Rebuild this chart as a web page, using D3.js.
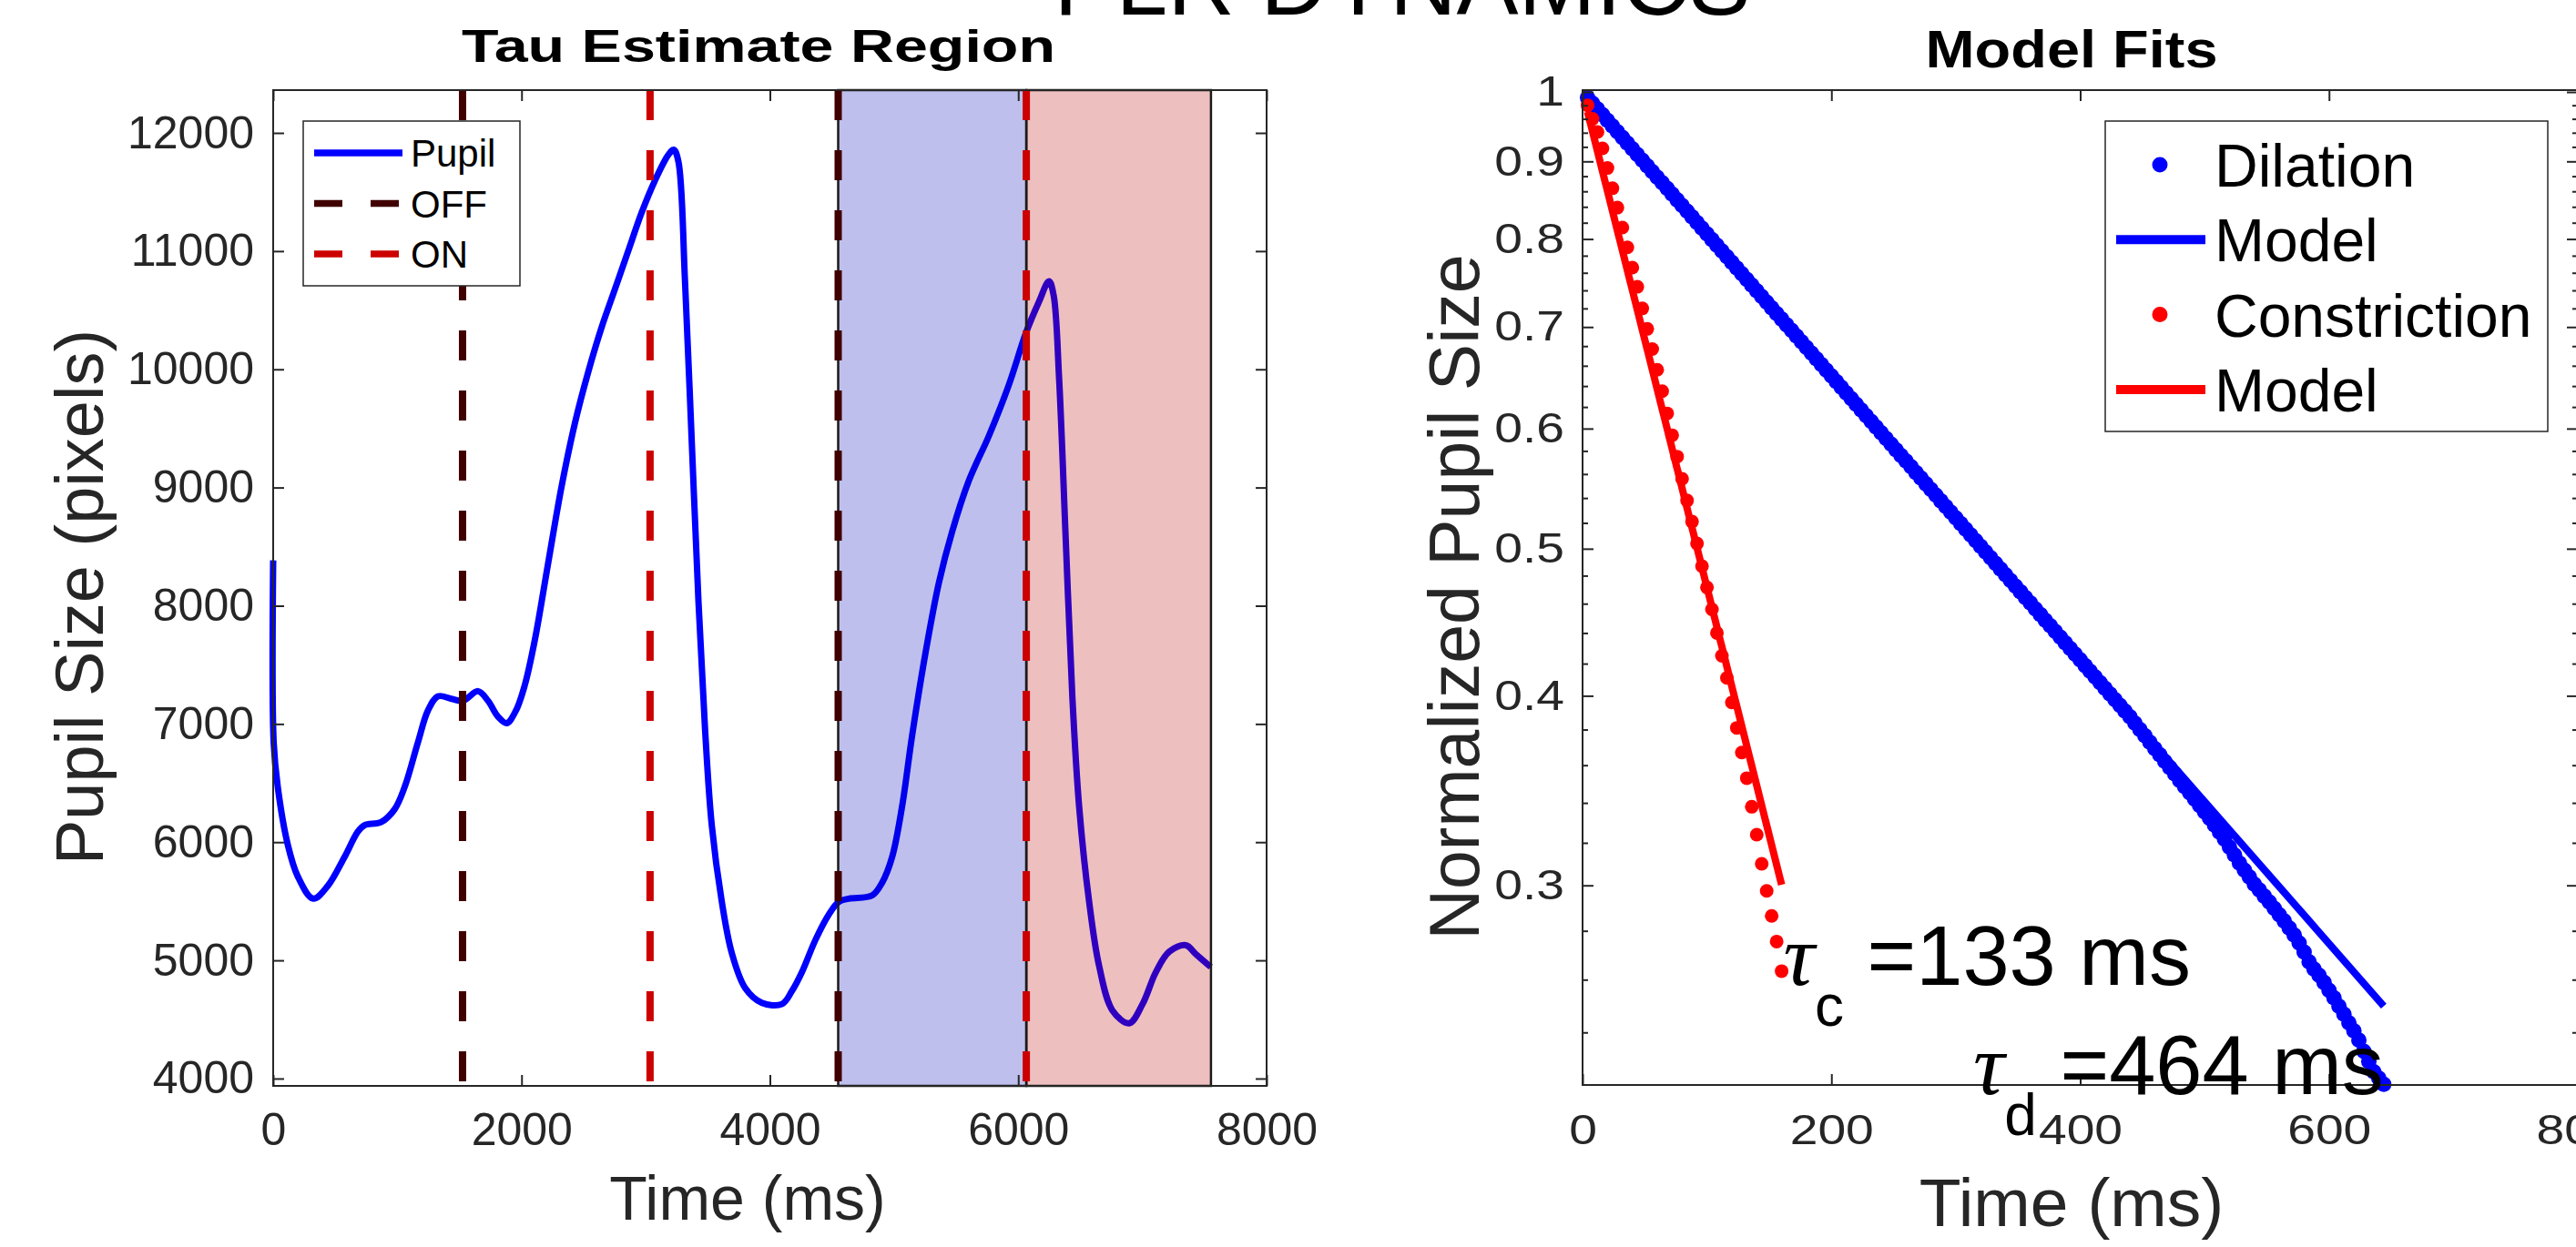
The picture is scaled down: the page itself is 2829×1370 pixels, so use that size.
<!DOCTYPE html>
<html><head><meta charset="utf-8">
<script src="https://cdn.jsdelivr.net/npm/d3@7"></script>
<style>html,body{margin:0;padding:0;background:#fff;overflow:hidden}svg{display:block}</style>
</head><body>
<svg id="chart" width="2829" height="1370"></svg>
<script>
// ---------------- DATA ----------------
const mainTitle = "PLR DYNAMICS";
const leftTitle = "Tau Estimate Region";
const rightTitle = "Model Fits";

// Left panel: pupil trace
const pupilTime = [0,4,37,117,198,322,440,574,682,736,870,978,1059,1166,1247,1327,1435,1527,1650,1730,1811,1881,1956,2027,2107,2214,2322,2430,2537,2645,2753,2860,2968,3075,3182,3226,3263,3317,3371,3425,3478,3532,3613,3693,3801,3935,4097,4177,4258,4366,4474,4554,4635,4823,4903,4984,5065,5145,5253,5361,5468,5603,5764,5925,6060,6167,6248,6285,6329,6382,6436,6490,6571,6651,6759,6893,7001,7108,7216,7350,7431,7550];
const pupilSize = [8384,6845,6467,5981,5710,5522,5630,5873,6089,6143,6170,6278,6467,6845,7115,7234,7213,7196,7277,7196,7061,7007,7115,7331,7709,8357,9006,9545,9977,10355,10680,11004,11328,11598,11814,11858,11760,10733,9384,8033,6953,6143,5495,5063,4766,4641,4630,4739,4900,5171,5387,5495,5522,5549,5656,5873,6305,6899,7601,8195,8628,9060,9438,9870,10302,10572,10745,10626,9923,8573,7223,6305,5495,4954,4576,4468,4630,4900,5074,5128,5052,4944];
const offTimes = [1525, 4550];
const onTimes = [3035, 6065];
const dilationRegion = [4550, 6065];
const constrictionRegion = [6065, 7552];
const leftXTicks = [0,2000,4000,6000,8000];
const leftYTicks = [4000,5000,6000,7000,8000,9000,10000,11000,12000];
const leftLegend = ["Pupil","OFF","ON"];

// Right panel: normalized fits
const dilTime = [4,8,12,16,20,24,28,32,36,40,44,48,52,56,60,64,68,72,76,80,84,88,92,96,100,104,108,112,116,120,124,128,132,136,140,144,148,152,156,160,164,168,172,176,180,184,188,192,196,200,204,208,212,216,220,224,228,232,236,240,244,248,252,256,260,264,268,272,276,280,284,288,292,296,300,304,308,312,316,320,324,328,332,336,340,344,348,352,356,360,364,368,372,376,380,384,388,392,396,400,404,408,412,416,420,424,428,432,436,440,444,448,452,456,460,464,468,472,476,480,484,488,492,496,500,504,508,512,516,520,524,528,532,536,540,544,548,552,556,560,564,568,572,576,580,584,588,592,596,600,604,608,612,616,620,624,628,632,636,640,644];
const dilValue = [0.9914,0.9829,0.9745,0.9661,0.9578,0.9496,0.9414,0.9334,0.9253,0.9174,
0.9095,0.9017,0.8940,0.8863,0.8787,0.8712,0.8637,0.8563,0.8489,0.8417,
0.8344,0.8273,0.8202,0.8131,0.8061,0.7992,0.7924,0.7856,0.7788,0.7721,
0.7655,0.7590,0.7524,0.7460,0.7396,0.7332,0.7269,0.7207,0.7145,0.7084,
0.7023,0.6963,0.6903,0.6844,0.6785,0.6727,0.6669,0.6612,0.6555,0.6499,
0.6443,0.6388,0.6333,0.6279,0.6225,0.6171,0.6118,0.6066,0.6014,0.5962,
0.5911,0.5860,0.5810,0.5760,0.5711,0.5662,0.5613,0.5565,0.5517,0.5470,
0.5423,0.5376,0.5330,0.5284,0.5239,0.5194,0.5149,0.5105,0.5061,0.5018,
0.4975,0.4932,0.4890,0.4848,0.4806,0.4765,0.4724,0.4684,0.4643,0.4604,
0.4564,0.4525,0.4486,0.4448,0.4410,0.4372,0.4334,0.4297,0.4260,0.4224,
0.4187,0.4151,0.4116,0.4080,0.4045,0.4011,0.3976,0.3942,0.3908,0.3875,
0.3837,0.3800,0.3765,0.3728,0.3692,0.3657,0.3621,0.3587,0.3553,0.3518,
0.3485,0.3452,0.3419,0.3386,0.3354,0.3321,0.3287,0.3252,0.3218,0.3179,
0.3142,0.3103,0.3070,0.3038,0.3005,0.2979,0.2951,0.2925,0.2897,0.2869,
0.2842,0.2812,0.2782,0.2749,0.2711,0.2671,0.2642,0.2617,0.2589,0.2558,
0.2529,0.2497,0.2467,0.2435,0.2406,0.2372,0.2332,0.2296,0.2261,0.2239,0.2218];
const conTime = [4,8,12,16,20,24,28,32,36,40,44,48,52,56,60,64,68,72,76,80,84,88,92,96,100,104,108,112,116,120,124,128,132,136,140,144,148,152,156,160];
const conValue = [0.980,0.960,0.941,0.918,0.891,0.864,0.839,0.814,0.790,0.766,
0.744,0.720,0.698,0.677,0.656,0.635,0.614,0.594,0.575,0.556,
0.538,0.521,0.504,0.487,0.4715,0.456,0.440,0.425,0.411,0.396,
0.381,0.367,0.353,0.338,0.324,0.310,0.2975,0.2864,0.2755,0.2634];
const dilModelTime = [4, 644];
const dilModelValue = [0.9914, 0.2498];
const conModelTime = [4, 160];
const conModelValue = [0.9704, 0.3003];
const rightXTicks = [0,200,400,600,800];
const rightYTicks = [0.3,0.4,0.5,0.6,0.7,0.8,0.9,1];
const rightYMinor = [0.24,0.26,0.28,0.32,0.34,0.36,0.38,0.42,0.44,0.46,0.48,0.52,0.54,0.56,0.58,0.62,0.64,0.66,0.68,0.72,0.74,0.76,0.78,0.82,0.84,0.86,0.88,0.92,0.94,0.96,0.98];
const rightLegend = ["Dilation","Model","Constriction","Model"];
const tauC = 133, tauD = 464;

// ---------------- DRAW ----------------
const svg = d3.select('#chart');
const FONT = "'Liberation Sans', Arial, Helvetica, sans-serif";
const AX = '#262626';

function styleAxis(g, fs) {
  g.select('.domain').remove();
  g.selectAll('.tick line').attr('stroke', AX).attr('stroke-width', 2);
  g.selectAll('.tick text').attr('fill', AX).attr('font-family', FONT).attr('font-size', fs);
  return g;
}

// ===== LEFT PANEL =====
const L = {left:300, right:1391, top:99, bottom:1193};
const xL = d3.scaleLinear().domain([0,8000]).range([L.left, L.right]);
const yL = d3.scaleLinear().domain([3938,12362]).range([L.bottom, L.top]);
const gL = svg.append('g');

gL.append('path')
  .datum(pupilTime.map((t,i)=>[t,pupilSize[i]]))
  .attr('d', d3.line().x(d=>xL(d[0])).y(d=>yL(d[1])).curve(d3.curveCatmullRom.alpha(0.5)))
  .attr('fill','none').attr('stroke','#0000ff').attr('stroke-width',7)
  .attr('stroke-linejoin','round').attr('stroke-linecap','butt');

const regions = [
  {r: dilationRegion, fill: '#0000b8'},
  {r: constrictionRegion, fill: '#bc0000'}
];
gL.selectAll('rect.region').data(regions).join('rect').attr('class','region')
  .attr('x', d=>xL(d.r[0])).attr('y', L.top)
  .attr('width', d=>xL(d.r[1])-xL(d.r[0])).attr('height', L.bottom-L.top)
  .attr('fill', d=>d.fill).attr('fill-opacity', 0.25)
  .attr('stroke', '#1a1a1a').attr('stroke-width', 2.5);

gL.selectAll('line.off').data(offTimes).join('line').attr('class','off')
  .attr('x1', d=>xL(d)).attr('x2', d=>xL(d)).attr('y1', L.top).attr('y2', L.bottom)
  .attr('stroke','#400000').attr('stroke-width',8).attr('stroke-dasharray','33,33');
gL.selectAll('line.on').data(onTimes).join('line').attr('class','on')
  .attr('x1', d=>xL(d)).attr('x2', d=>xL(d)).attr('y1', L.top).attr('y2', L.bottom)
  .attr('stroke','#cc0000').attr('stroke-width',8).attr('stroke-dasharray','33,33');

styleAxis(gL.append('g').attr('transform',`translate(${L.left},0)`)
  .call(d3.axisLeft(yL).tickValues(leftYTicks).tickSize(-12).tickPadding(21).tickFormat(d3.format('d'))), 50);
styleAxis(gL.append('g').attr('transform',`translate(${L.right},0)`)
  .call(d3.axisRight(yL).tickValues(leftYTicks).tickSize(-12).tickFormat('')), 50);
styleAxis(gL.append('g').attr('transform',`translate(0,${L.bottom})`)
  .call(d3.axisBottom(xL).tickValues(leftXTicks).tickSize(-12).tickPadding(29).tickFormat(d3.format('d'))), 50);
styleAxis(gL.append('g').attr('transform',`translate(0,${L.top})`)
  .call(d3.axisTop(xL).tickValues(leftXTicks).tickSize(-12).tickFormat('')), 50);
gL.append('rect').attr('x',L.left).attr('y',L.top).attr('width',L.right-L.left).attr('height',L.bottom-L.top)
  .attr('fill','none').attr('stroke',AX).attr('stroke-width',2);

const lg = gL.append('g');
lg.append('rect').attr('x',333).attr('y',133).attr('width',238).attr('height',181)
  .attr('fill','#fff').attr('stroke',AX).attr('stroke-width',1.5);
const legStyles = [
  {stroke:'#0000ff', dash:null},
  {stroke:'#400000', dash:'31,31'},
  {stroke:'#cc0000', dash:'31,31'}
];
leftLegend.forEach((name,i)=>{
  const cy = 168 + i*55.5;
  lg.append('line').attr('x1',345).attr('x2',442).attr('y1',cy).attr('y2',cy)
    .attr('stroke',legStyles[i].stroke).attr('stroke-width',7.5)
    .attr('stroke-dasharray',legStyles[i].dash);
  lg.append('text').attr('x',451).attr('y',cy+15).text(name)
    .attr('font-family',FONT).attr('font-size',42).attr('fill','#000');
});

svg.append('text').attr('transform','translate(113,656) rotate(-90)').attr('text-anchor','middle')
  .attr('font-family',FONT).attr('font-size',74).attr('fill',AX).text('Pupil Size (pixels)');
svg.append('text').attr('x',821).attr('y',1340).attr('text-anchor','middle')
  .attr('font-family',FONT).attr('font-size',68).attr('fill',AX).text('Time (ms)');
svg.append('text').attr('x',833).attr('y',68).attr('text-anchor','middle')
  .attr('font-family',FONT).attr('font-weight','bold').attr('font-size',50).attr('fill','#000')
  .attr('textLength',652).attr('lengthAdjust','spacingAndGlyphs').text(leftTitle);

// ===== RIGHT PANEL =====
const R = {left:1738, right:2831, top:99, bottom:1192};
const xR = d3.scaleLinear().domain([0,800]).range([R.left, R.right]);
const yR = d3.scaleLog().domain([0.2216,1.0028]).range([R.bottom, R.top]);
const gR = svg.append('g');

gR.selectAll('circle.dil').data(dilTime.map((t,i)=>[t,dilValue[i]])).join('circle').attr('class','dil')
  .attr('cx',d=>xR(d[0])).attr('cy',d=>yR(d[1])).attr('r',8.5).attr('fill','#0000ff');
gR.append('path').datum(dilModelTime.map((t,i)=>[t,dilModelValue[i]]))
  .attr('d', d3.line().x(d=>xR(d[0])).y(d=>yR(d[1])))
  .attr('stroke','#0000ff').attr('stroke-width',8).attr('fill','none');
gR.selectAll('circle.con').data(conTime.map((t,i)=>[t,conValue[i]])).join('circle').attr('class','con')
  .attr('cx',d=>xR(d[0])).attr('cy',d=>yR(d[1])).attr('r',7.5).attr('fill','#ff0000');
gR.append('path').datum(conModelTime.map((t,i)=>[t,conModelValue[i]]))
  .attr('d', d3.line().x(d=>xR(d[0])).y(d=>yR(d[1])))
  .attr('stroke','#ff0000').attr('stroke-width',8).attr('fill','none');

const TS = 1.2; // horizontal stretch of right-panel tick labels
const yAxR = styleAxis(gR.append('g').attr('transform',`translate(${R.left},0)`)
  .call(d3.axisLeft(yR).tickValues(rightYTicks).tickSize(-12).tickPadding(20).tickFormat(d=> d===1?'1':d3.format('.1f')(d))), 46);
yAxR.selectAll('.tick text').attr('x', -20/TS).attr('transform',`scale(${TS},1)`);
styleAxis(gR.append('g').attr('transform',`translate(${R.right},0)`)
  .call(d3.axisRight(yR).tickValues(rightYTicks).tickSize(-12).tickFormat('')), 46);
styleAxis(gR.append('g').attr('transform',`translate(${R.left},0)`)
  .call(d3.axisLeft(yR).tickValues(rightYMinor).tickSize(-6).tickFormat('')), 46);
styleAxis(gR.append('g').attr('transform',`translate(${R.right},0)`)
  .call(d3.axisRight(yR).tickValues(rightYMinor).tickSize(-6).tickFormat('')), 46);
const xAxR = styleAxis(gR.append('g').attr('transform',`translate(0,${R.bottom})`)
  .call(d3.axisBottom(xR).tickValues(rightXTicks).tickSize(-12).tickPadding(32).tickFormat(d3.format('d'))), 46);
xAxR.selectAll('.tick text').attr('transform',`scale(${TS},1)`);
styleAxis(gR.append('g').attr('transform',`translate(0,${R.top})`)
  .call(d3.axisTop(xR).tickValues(rightXTicks).tickSize(-12).tickFormat('')), 46);
gR.append('rect').attr('x',R.left).attr('y',R.top).attr('width',R.right-R.left).attr('height',R.bottom-R.top)
  .attr('fill','none').attr('stroke',AX).attr('stroke-width',2);

function tauLabel(x, y, sub, rest, anchor) {
  const t = gR.append('text').attr('x',x).attr('y',y).attr('text-anchor',anchor)
    .attr('font-family',FONT).attr('font-size',92).attr('fill','#000');
  t.append('tspan').attr('font-family',"'Liberation Serif','Times New Roman',serif").attr('font-style','italic').attr('font-size',96).text('\u03C4');
  t.append('tspan').attr('dy',45).attr('font-size',64).text(sub);
  t.append('tspan').attr('dy',-45).text(rest);
}
const lastCon = conTime.length-1, lastDil = dilTime.length-1;
tauLabel(xR(conTime[lastCon])+2, yR(conValue[lastCon])+15, 'c', ' =' + tauC + ' ms', 'start');
tauLabel(xR(dilTime[lastDil]), yR(dilValue[lastDil])+11, 'd', ' =' + tauD + ' ms', 'end');

const rg = gR.append('g');
rg.append('rect').attr('x',2312).attr('y',133).attr('width',486).attr('height',341)
  .attr('fill','#fff').attr('stroke',AX).attr('stroke-width',1.5);
const rStyles = [
  {type:'dot', color:'#0000ff'}, {type:'line', color:'#0000ff'},
  {type:'dot', color:'#ff0000'}, {type:'line', color:'#ff0000'}
];
rightLegend.forEach((name,i)=>{
  const cy = 181 + i*82.3;
  if (rStyles[i].type==='dot') {
    rg.append('circle').attr('cx',2372).attr('cy',cy).attr('r',8.5).attr('fill',rStyles[i].color);
  } else {
    rg.append('line').attr('x1',2324).attr('x2',2422).attr('y1',cy).attr('y2',cy)
      .attr('stroke',rStyles[i].color).attr('stroke-width',10);
  }
  rg.append('text').attr('x',2432).attr('y',cy+24).text(name)
    .attr('font-family',FONT).attr('font-size',66).attr('fill','#000');
});

svg.append('text').attr('transform','translate(1624,656) rotate(-90)').attr('text-anchor','middle')
  .attr('font-family',FONT).attr('font-size',77).attr('fill',AX).text('Normalized Pupil Size');
svg.append('text').attr('x',2275).attr('y',1347).attr('text-anchor','middle')
  .attr('font-family',FONT).attr('font-size',75).attr('fill',AX).text('Time (ms)');
svg.append('text').attr('x',2275).attr('y',74).attr('text-anchor','middle')
  .attr('font-family',FONT).attr('font-weight','bold').attr('font-size',57).attr('fill','#000')
  .attr('textLength',321).attr('lengthAdjust','spacingAndGlyphs').text(rightTitle);

svg.append('text').attr('x',1540).attr('y',16).attr('text-anchor','middle')
  .attr('font-family',FONT).attr('font-size',102).attr('fill','#000').text(mainTitle);
</script>
</body></html>
